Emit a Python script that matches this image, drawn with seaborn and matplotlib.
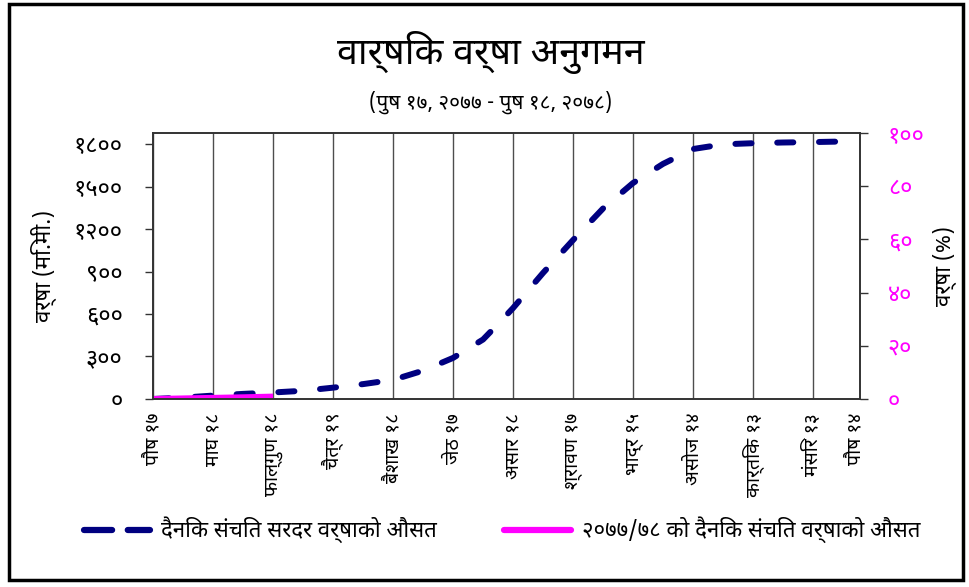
import matplotlib
matplotlib.use("Agg")
import matplotlib.pyplot as plt
import matplotlib.font_manager as fm
from matplotlib.ft2font import FT2Font
from matplotlib.lines import Line2D
from matplotlib.patches import Rectangle
import seaborn as sns
import pandas as pd

# normal cumulative rainfall (mm), read every 15 days from पौष १७
normal_days = [0, 15, 30, 45, 60, 75, 90, 105, 120, 135, 150, 165, 172, 180,
               195, 210, 225, 240, 255, 270, 285, 300, 315, 330, 345, 352]
normal_mm = [0, 10, 24, 36, 46, 58, 80, 105, 135, 200, 290, 420, 522, 642,
             890, 1122, 1345, 1525, 1660, 1765, 1798, 1806, 1811, 1814, 1818, 1821]

# this year's cumulative rainfall (mm)
year_days = [0, 15, 30, 45, 60]
year_mm = [0, 4, 8, 12, 17]

tick_days = [0, 30, 60, 90, 120, 150, 180, 210, 240, 270, 300, 330, 351]
tick_labels = ["पौष १७", "माघ १८", "फाल्गुण १८", "चैत्र १९", "बैशाख १८", "जेठ १७",
               "असार १८", "श्रावण १७", "भाद्र १५", "असोज १४", "कार्तिक १३",
               "मंसिर १३", "पौष १४"]
left_ticks = [0, 300, 600, 900, 1200, 1500, 1800]
left_labels = ["०", "३००", "६००", "९००", "१२००", "१५००", "१८००"]
right_ticks = [0, 20, 40, 60, 80, 100]
right_labels = ["०", "२०", "४०", "६०", "८०", "१००"]


def find_devanagari_font():
    installed = {f.name for f in fm.fontManager.ttflist}
    for name in ["Noto Sans Devanagari", "Hind", "Mukta", "Poppins",
                 "Noto Serif Devanagari", "Annapurna SIL", "Arya"]:
        if name in installed:
            return name
    for f in fm.fontManager.ttflist:
        try:
            if 0x0915 in FT2Font(f.fname).get_charmap():
                return f.name
        except Exception:
            continue
    return None


sns.set_style("white")
deva = find_devanagari_font()
families = ([deva] if deva else []) + ["DejaVu Sans"]
plt.rcParams["font.family"] = families
plt.rcParams["text.color"] = "black"
plt.rcParams["axes.labelcolor"] = "black"
plt.rcParams["xtick.color"] = "black"
plt.rcParams["ytick.color"] = "black"

normal = pd.DataFrame({"day": normal_days, "mm": normal_mm})
year = pd.DataFrame({"day": year_days, "mm": year_mm})

fig = plt.figure(figsize=(9.69, 5.87), dpi=100)
ax = fig.add_axes([0.158, 0.3203, 0.7295, 0.4531])

for d in tick_days[:-1]:
    ax.axvline(d, color="#4d4d4d", lw=1.0, zorder=0)

navy = "#000080"
pink = "#FF00FF"
sns.lineplot(data=normal, x="day", y="mm", ax=ax, color=navy, lw=4.3,
             dashes=False)
ax.lines[-1].set_dashes((2.7, 4.3))
ax.lines[-1].set_dash_capstyle("round")
sns.lineplot(data=year, x="day", y="mm", ax=ax, color=pink, lw=4.3)
ax.lines[-1].set_solid_capstyle("butt")

ax.set_xlim(0, 353.5)
ax.set_ylim(0, 1878)
ax.set_xticks(tick_days)
ax.set_xticklabels(tick_labels, rotation=90, fontsize=14)
ax.set_yticks(left_ticks)
ax.set_yticklabels(left_labels, fontsize=17)
ax.tick_params(axis="both", direction="out", length=6, width=1, color="#333333")
ax.tick_params(axis="y", pad=16)
ax.tick_params(axis="x", pad=4)
ax.set_xlabel("")
ax.set_ylabel("वर्षा (मि.मी.)", fontsize=16, labelpad=12)
for s in ax.spines.values():
    s.set_color("#333333")
    s.set_linewidth(1.2)

ax2 = ax.twinx()
ax2.set_ylim(0, 100)
ax2.set_yticks(right_ticks)
ax2.set_yticklabels(right_labels, fontsize=17, color=pink)
ax2.tick_params(axis="y", direction="out", length=6, width=1, color="#333333",
                pad=14)
ax2.set_ylabel("वर्षा (%)", fontsize=16, labelpad=6)
for s in ax2.spines.values():
    s.set_color("#333333")
    s.set_linewidth(1.2)

fig.text(0.506, 0.911, "वार्षिक वर्षा अनुगमन", fontsize=27, ha="center",
         va="center")
fig.text(0.506, 0.825, "(पुष १७, २०७७ - पुष १८, २०७८)", fontsize=15,
         ha="center", va="center")

handles = [
    Line2D([], [], color=navy, lw=4.5, dashes=(4.5, 2.5),
           dash_capstyle="round"),
    Line2D([], [], color=pink, lw=4.5),
]
labels = ["दैनिक संचित सरदर वर्षाको औसत", "२०७७/७८ को दैनिक संचित वर्षाको औसत"]
fig.legend(handles, labels, ncol=2, loc="center",
           bbox_to_anchor=(0.518, 0.097), frameon=False, fontsize=16,
           handlelength=3.0, columnspacing=3.0, handletextpad=0.5)

fig.patches.append(Rectangle((0.0093, 0.0119), 0.9845, 0.9813,
                             transform=fig.transFigure, fill=False,
                             lw=2.5, ec="black"))

fig.savefig("out.png", dpi=100)
